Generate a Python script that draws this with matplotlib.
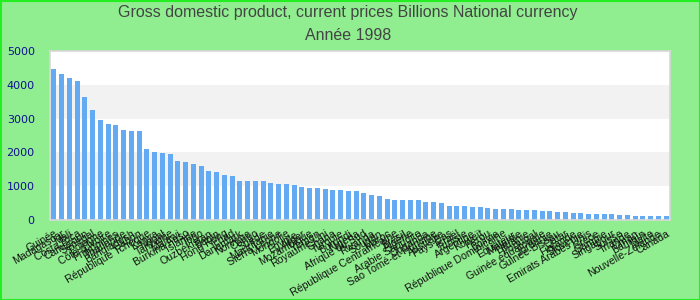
import matplotlib
matplotlib.use('Agg')
import matplotlib.pyplot as plt

# Data
TITLE = 'Gross domestic product, current prices Billions National currency'
SUBTITLE = 'Année 1998'

countries = [
    'Guinée', 'Madagascar', 'Mali', 'Costa Rica', 'Cameroun', 'Sénégal',
    'Pologne', "Côte d'Ivoire", 'Philippines', 'Thaïlande', 'Bangladesh',
    'Gabon', 'République Tchèque', 'Kenya', 'Népal', 'Tanzanie', 'Malawi',
    'Burkina Faso', 'Islande', 'Togo', 'Ouzbékistan', 'Bénin', 'Hong Kong',
    'Tchad', 'Danemark', 'Norvège', 'Congo', 'Suède', 'Mauritanie',
    'Sierra Leone', 'Mongolie', 'Égypte', 'Niger', 'Mozambique', 'Yémen',
    'Royaume-Uni', 'Ghana', 'Turquie', 'Burundi', 'Nigeria',
    'Afrique du Sud', 'Rwanda', 'Soudan', 'Maroc',
    'République Centrafricaine', 'Brésil', 'Algérie', 'Arabie Saoudite',
    'Ouganda', 'Sao Tomé-et-Principe', 'Australie', 'Pays-Bas', 'Israël',
    'Tunisie', 'Argentine', 'Koweït', 'Pérou', 'Bolivie',
    'République Dominicaine', 'Équateur', 'Malaisie', 'Lituanie',
    'Portugal', 'Guinée équatoriale', 'Jordanie', 'Guinée-Bissau', 'Qatar',
    'Finlande', 'Slovénie', 'Emirats Arabes Unis', 'Grèce', 'Gambie',
    'Singapour', 'Suisse', 'Irlande', 'Oman', 'Bahreïn', 'Malte',
    'Nouvelle-Zélande', 'Canada',
]

gdp = [
    4455, 4307, 4188, 4099, 3653, 3267, 2970, 2851, 2822, 2673,
    2644, 2644, 2109, 2020, 1990, 1960, 1752, 1723, 1663, 1604,
    1455, 1426, 1337, 1307, 1158, 1158, 1158, 1158, 1099, 1069,
    1069, 1040, 980, 950, 950, 921, 891, 891, 861, 861,
    802, 743, 713, 624, 594, 594, 594, 594, 535, 535,
    505, 416, 416, 416, 386, 386, 356, 327, 327, 327,
    297, 297, 297, 267, 267, 238, 238, 208, 208, 178,
    178, 178, 178, 149, 149, 119, 119, 119, 119, 119,
]

Y_TICKS = [0, 1000, 2000, 3000, 4000, 5000]

BG = '#90ee90'
BAR_COLOR = '#64aaf3'

fig = plt.figure(figsize=(7, 3), dpi=100, facecolor=BG)

ax = fig.add_axes([50 / 700, 80 / 300, 620 / 700, 169 / 300])
ax.set_facecolor('white')

# alternating grey bands
for i in range(len(Y_TICKS) - 1):
    if i % 2 == 1:
        ax.axhspan(Y_TICKS[i], Y_TICKS[i + 1], color='#f2f2f2', zorder=0, lw=0)

x = list(range(len(countries)))
ax.bar(x, gdp, width=0.65, color=BAR_COLOR, zorder=2)

ax.set_xlim(-0.5, len(countries) - 0.5)
ax.set_ylim(0, 5000)
ax.set_yticks(Y_TICKS)
ax.set_yticklabels([str(v) for v in Y_TICKS], color='#10108f', fontsize=8,
                   family='DejaVu Sans')
ax.tick_params(axis='y', length=0, pad=11)

ax.set_xticks(x)
ax.set_xticklabels(countries, rotation=30, ha='right', rotation_mode='anchor',
                   fontsize=7.6, color='#111111', family='Liberation Sans')
ax.tick_params(axis='x', length=0, pad=6)

for s in ax.spines.values():
    s.set_color('#d8d8d8')
    s.set_linewidth(1.2)

fig.text(0.497, 1 - 13 / 300, TITLE, ha='center', va='center', fontsize=11.5,
         color='#444444', family='Liberation Sans')
fig.text(0.497, 1 - 35 / 300, SUBTITLE, ha='center', va='center', fontsize=11.5,
         color='#444444', family='Liberation Sans')

# thin bright green frame round the whole picture
fig.add_artist(plt.Rectangle((0.5 / 700, 0.5 / 300), 699 / 700, 299 / 300,
                             transform=fig.transFigure, fill=False,
                             edgecolor='#22ee22', linewidth=1.5))

fig.savefig('out.png', dpi=100, facecolor=BG)
